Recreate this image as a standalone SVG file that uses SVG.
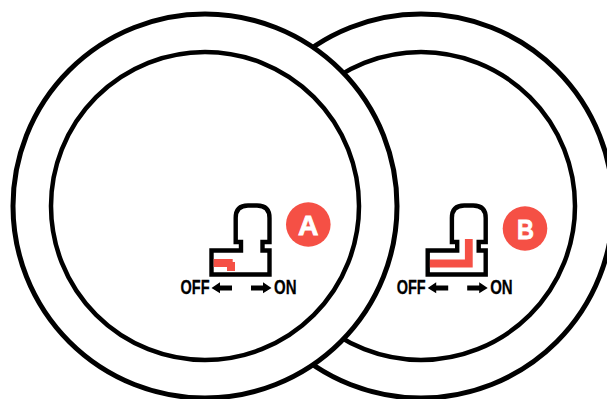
<svg xmlns="http://www.w3.org/2000/svg" width="607" height="399" viewBox="0 0 607 399">
<defs>
<style>
.ring{fill:#fff;stroke:#000;stroke-width:5}
.inner{fill:#fff;stroke:#000;stroke-width:4.500}
.sw{fill:#fff;stroke:#000;stroke-width:4.400;stroke-linejoin:miter}
.red{fill:#f55045}
.badge{fill:#f55045}
.bl{font-family:"Liberation Sans",Arial,sans-serif;font-weight:700;font-size:28px;fill:#fff;stroke:#fff;stroke-width:.8}
.lab{font-family:"Liberation Sans",Arial,sans-serif;font-weight:700;font-size:21px;fill:#000;stroke:#000;stroke-width:.3}
</style>
<path id="body" d="M235.700 242V218Q235.700 205.500 248 205.500H257Q269.500 205.500 269.500 218V242H262.500V250.500H269.500V274.500H211.500V250.500H241V242Z"/>
<path id="arrows" d="M211.500 288L220 282.300V285.400H232V290.400H220V293.300Z M271.500 288L263 282.300V285.400H251V290.400H263V293.300Z" fill="#000"/>
</defs>
<g id="dial-b">
<circle class="ring" cx="421" cy="206" r="192"/>
<circle class="inner" cx="421" cy="206" r="154"/>
</g>
<g id="dial-a">
<circle class="ring" cx="205" cy="206" r="192"/>
<circle class="inner" cx="205" cy="206" r="154"/>
</g>
<g id="switch-a">
<use href="#body" class="sw"/>
<path class="red" d="M213.700 259H232.700V262H235V271H227V267H213.700Z"/>
<use href="#arrows"/>
<text class="lab" x="180.500" y="294.300" textLength="29" lengthAdjust="spacingAndGlyphs">OFF</text>
<text class="lab" x="274" y="294.300" textLength="22.500" lengthAdjust="spacingAndGlyphs">ON</text>
</g>
<g id="badge-a">
<circle class="badge" cx="308.300" cy="224.500" r="22.300"/>
<text class="bl" x="298" y="235" textLength="20.500" lengthAdjust="spacingAndGlyphs">A</text>
</g>
<g id="switch-b" transform="translate(216.200 0)">
<use href="#body" class="sw"/>
<path class="red" d="M248.700 239H256.500V267.500H213.700V259.500H248.700Z"/>
<use href="#arrows"/>
<text class="lab" x="180.500" y="294.300" textLength="29" lengthAdjust="spacingAndGlyphs">OFF</text>
<text class="lab" x="274" y="294.300" textLength="22.500" lengthAdjust="spacingAndGlyphs">ON</text>
</g>
<g id="badge-b">
<circle class="badge" cx="525" cy="228.500" r="22.300"/>
<text class="bl" x="517" y="238.500" textLength="17" lengthAdjust="spacingAndGlyphs">B</text>
</g>
</svg>
